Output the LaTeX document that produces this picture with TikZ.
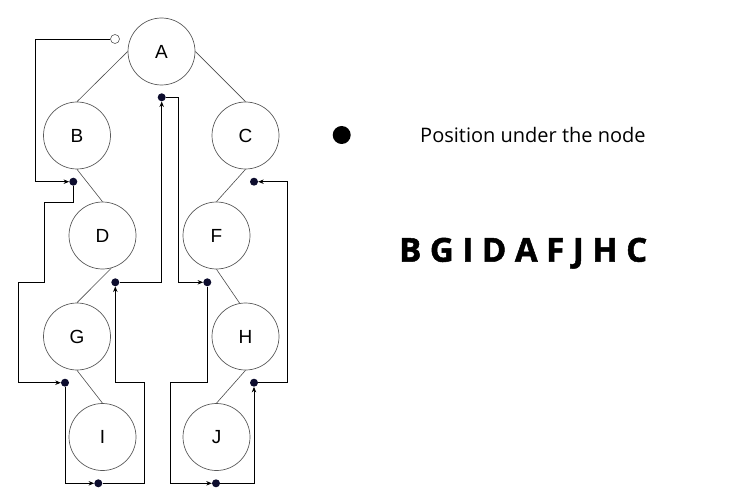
\documentclass[tikz,border=0pt]{standalone}
\usepackage{fontspec}
\setmainfont{Liberation Sans}
\newfontfamily\legendfont{Open Sans}
\newfontfamily\orderfont[BoldFeatures={FakeBold=1.5}]{Open Sans}
\usetikzlibrary{arrows.meta}
\definecolor{dotblue}{HTML}{0D0D2E}
\tikzset{
  treenode/.style={circle,draw=black!65,line width=0.7pt,minimum size=67pt,inner sep=0pt,font=\fontsize{19}{21}\selectfont},
  posdot/.style={circle,fill=dotblue,minimum size=8pt,inner sep=0pt},
  startdot/.style={circle,draw=black!65,line width=0.6pt,fill=white,minimum size=9pt,inner sep=0pt},
  treeedge/.style={black!70,line width=0.6pt},
  walk/.style={black,line width=0.8pt,-{Stealth[length=5.5pt,width=4.5pt]}}
}
\begin{document}
\begin{tikzpicture}[x=1pt,y=-1pt]
\useasboundingbox (0,0) rectangle (755,500);
% tree nodes
\node[treenode] (A) at (161.5,51.5) {A};
\node[treenode] (B) at (77,135.5) {B};
\node[treenode] (C) at (245.5,135.5) {C};
\node[treenode] (D) at (102.5,235.5) {D};
\node[treenode] (F) at (216.5,235.5) {F};
\node[treenode] (G) at (77,336.5) {G};
\node[treenode] (H) at (245.5,336.5) {H};
\node[treenode] (I) at (102.5,437) {I};
\node[treenode] (J) at (216.5,437) {J};
\draw[treeedge] (A.west) -- (B.north);
\draw[treeedge] (A.east) -- (C.north);
\draw[treeedge] (B.south) -- (D.north);
\draw[treeedge] (C.south) -- (F.north);
\draw[treeedge] (D.-75) -- (G.north);
\draw[treeedge] (F.south) -- (H.100);
\draw[treeedge] (G.south) -- (I.north);
\draw[treeedge] (H.south) -- (J.north);
% positions under the nodes
\node[startdot] (s) at (115,39) {};
\node[posdot] (dA) at (161.7,97.3) {};
\node[posdot] (dB) at (73.3,181.7) {};
\node[posdot] (dC) at (254,181.7) {};
\node[posdot] (dD) at (115.3,282.3) {};
\node[posdot] (dF) at (207.3,282.3) {};
\node[posdot] (dG) at (65,382.7) {};
\node[posdot] (dH) at (254,382.7) {};
\node[posdot] (dI) at (98.3,483.3) {};
\node[posdot] (dJ) at (216,483.3) {};
% in-order walk
\draw[walk] (s) -- ++(-79.3,0) |- (dB);
\draw[walk] (dB) -- ++(0,20.3) -- ++(-29.3,0) -- ++(0,80.3) -- ++(-25.7,0) |- (dG);
\draw[walk] (dG) |- (dI);
\draw[walk] (dI) -| ++(46,-100.6) -| (dD);
\draw[walk] (dD) -| (dA);
\draw[walk] (dA) -| ++(16.6,185) -- (dF);
\draw[walk] (dF) |- ++(-37.3,100.4) |- (dJ);
\draw[walk] (dJ) -| (dH);
\draw[walk] (dH) -- ++(33.7,0) |- (dC);
% legend
\node[circle,fill=black,minimum size=18pt,inner sep=0pt] (key) at (341.7,135) {};
\node[anchor=base west,font=\legendfont\fontsize{20}{24}\selectfont] (keytext) at (416.7,142.7) {Position under the node};
\node[anchor=base west,inner sep=0pt,font=\orderfont\bfseries\fontsize{33}{36}\selectfont] (order) at (399,261.7) {B G I D A F J H C};
\end{tikzpicture}
\end{document}
